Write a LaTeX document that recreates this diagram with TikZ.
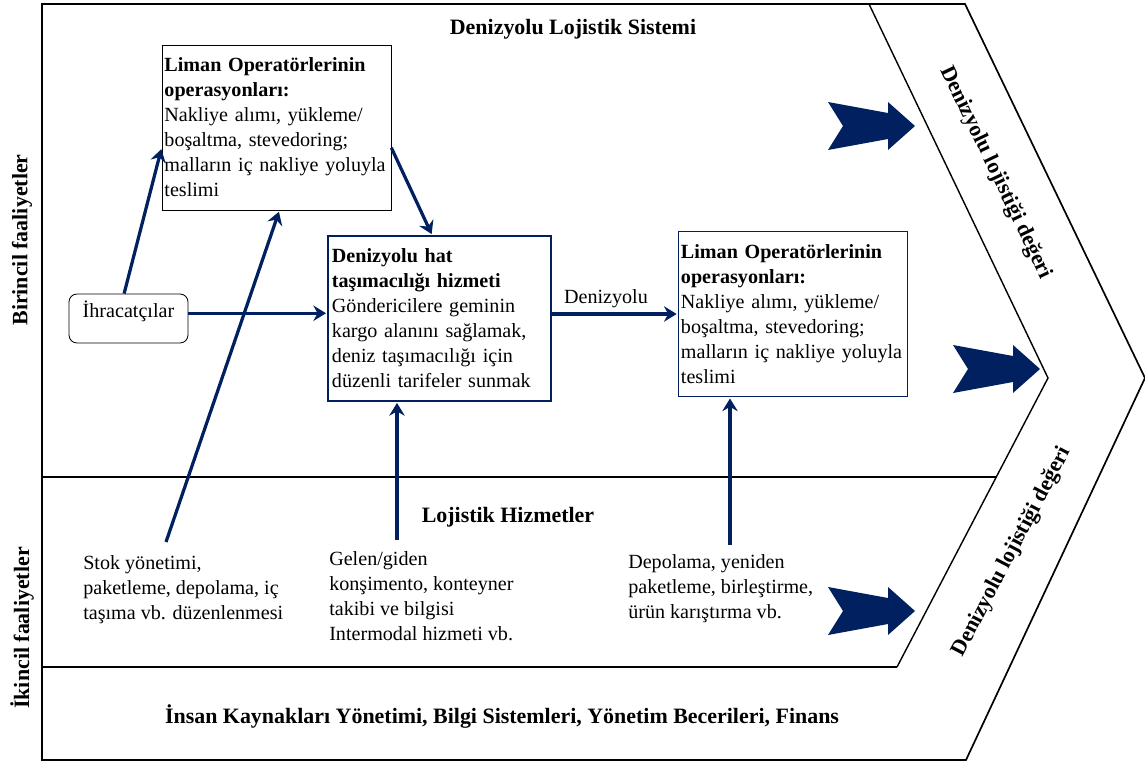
\documentclass[tikz,border=0pt]{standalone}
\usepackage{fontspec}
\setmainfont{Liberation Serif}
\usetikzlibrary{arrows.meta}
\definecolor{navy}{HTML}{002060}

\begin{document}
\begin{tikzpicture}[x=0.025cm,y=-0.025cm,
  every node/.style={font=\fontsize{14.3}{17.8}\selectfont},
  head/.style={font=\fontsize{15.6}{18}\selectfont\bfseries},
  opsbox/.style={draw=navy,line width=0.8pt,inner xsep=0.1cm,inner ysep=0pt,align=left,minimum height=4.125cm},
  flow/.style={draw=navy,line width=2.3pt,-{Stealth[length=9pt,width=11pt,inset=3pt]},shorten >=1pt},
  note/.style={align=left,anchor=north west,inner sep=0pt},
  bigarrow/.style={fill=navy},
  frame/.style={line width=1.2pt}]
\useasboundingbox (0,0) rectangle (1145,762);
% frame with the value chevron
\draw[frame] (965,4) -- (42,4) -- (42,760) -- (966,760) -- (1145,378) -- cycle;
\draw[line width=1pt] (869,4) -- (1048,378) -- (897,667);
\draw[frame] (42,477) -- (996,477);
\draw[frame] (42,667) -- (897,667);

% headings
\node[head] (sistem) at (573,29) {Denizyolu Lojistik Sistemi};
\node[head] (lojhiz) at (508,517) {Lojistik Hizmetler};
\node[head] (ik) at (502,717) {İnsan Kaynakları Yönetimi, Bilgi Sistemleri, Yönetim Becerileri, Finans};
\node[head,rotate=90] (birincil) at (22,240) {Birincil faaliyetler};
\node[head,rotate=90] (ikincil) at (22,628) {İkincil faaliyetler};
\node[head,rotate=-64.4] (deger1) at (996,173) {Denizyolu lojistiği değeri};
\node[head,rotate=62.4] (deger2) at (1012,552) {Denizyolu lojistiği değeri};

% primary activities
\node[draw,rounded corners=0.2cm,minimum width=2.975cm,minimum height=1.225cm,inner sep=0pt,text depth=0.45cm,line width=0.6pt] (ihr) at (128.5,318.5) {İhracatçılar};
\node[opsbox,draw=black,line width=0.6pt,text width=5.6cm,inner xsep=0.06cm] (liman1) at (276.5,127.5) {\textbf{Liman Operatörlerinin}\\ \textbf{operasyonları:}\\ Nakliye alımı, yükleme/\\ boşaltma, stevedoring;\\ malların iç nakliye yoluyla\\ teslimi};
\node[opsbox,text width=5.375cm] (hat) at (439.5,318.5) {\textbf{Denizyolu hat}\\ \textbf{taşımacılığı hizmeti}\\ Göndericilere geminin\\ kargo alanını sağlamak,\\ deniz taşımacılığı için\\ düzenli tarifeler sunmak};
\node[opsbox,text width=5.6cm,inner xsep=0.06cm] (lim2) at (793,314) {\textbf{Liman Operatörlerinin}\\ \textbf{operasyonları:}\\ Nakliye alımı, yükleme/\\ boşaltma, stevedoring;\\ malların iç nakliye yoluyla\\ teslimi};

% secondary activities
\node[note] (stok) at (83,555) {Stok yönetimi,\\ paketleme, depolama, iç\\ taşıma vb. düzenlenmesi};
\node[note] (gelen) at (329,551) {Gelen/giden\\ konşimento, konteyner\\ takibi ve bilgisi\\ Intermodal hizmeti vb.};
\node[note] (depo) at (628,554) {Depolama, yeniden\\ paketleme, birleştirme,\\ ürün karıştırma vb.};
\coordinate (stoktail) at (166,542);
\coordinate (gelentail) at (397,540);
\coordinate (depotail) at (730,545);

% flows
\draw[flow] (ihr.100) -- (liman1.190);
\draw[flow] (stoktail) -- (liman1.-88);
\draw[flow] (liman1.350) -- (hat.95);
\draw[flow] (ihr.5) -- (ihr.5 -| hat.west);
\draw[flow] (lim2.west -| hat.east) -- node[above,pos=0.43] (deniz) {Denizyolu} (lim2.west);
\draw[flow] (gelentail) -- (gelentail |- hat.south);
\draw[flow] (depotail) -- (depotail |- lim2.south);

% big value arrows
\fill[bigarrow,shift={(828,102)}] (0,0) -- (60,11) -- (60,0) -- (87,24) -- (60,48) -- (60,37) -- (0,48) -- (15,24) -- cycle;
\fill[bigarrow,shift={(953,345)}] (0,0) -- (60,11) -- (60,0) -- (87,24) -- (60,48) -- (60,37) -- (0,48) -- (15,24) -- cycle;
\fill[bigarrow,shift={(828,587)}] (0,0) -- (60,11) -- (60,0) -- (87,24) -- (60,48) -- (60,37) -- (0,48) -- (15,24) -- cycle;
\end{tikzpicture}
\end{document}
